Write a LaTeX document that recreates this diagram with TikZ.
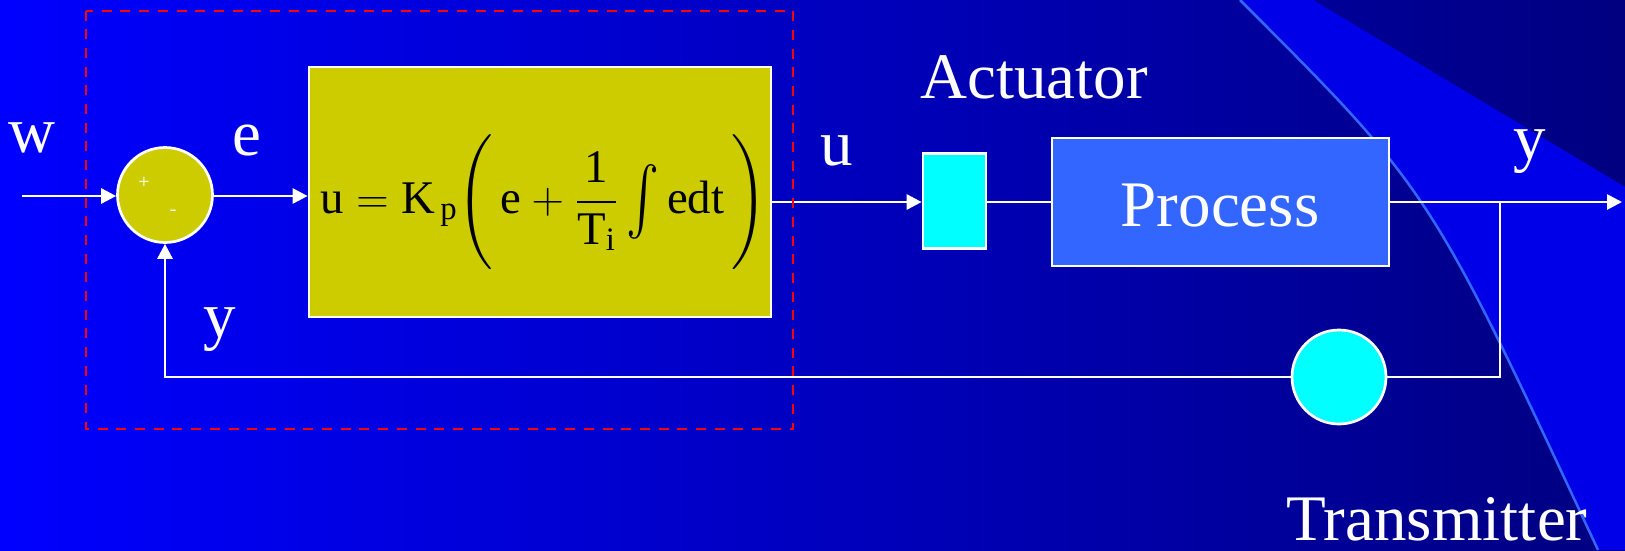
\documentclass[tikz,border=0pt]{standalone}
\usepackage{amsmath}
\usepackage{graphicx}
\usepackage{fontspec}
\setmainfont{Liberation Serif}
\usetikzlibrary{arrows.meta}
\definecolor{bgL}{RGB}{0,0,255}
\definecolor{bgR}{RGB}{0,0,128}
\definecolor{band}{RGB}{0,0,232}
\definecolor{curvecol}{RGB}{51,102,255}
\definecolor{ctrlyellow}{RGB}{204,204,0}
\definecolor{procblue}{RGB}{51,102,255}
\definecolor{aqua}{RGB}{0,255,255}
\tikzset{
  lbl/.style={text=white, font=\fontsize{65}{70}\selectfont, anchor=base, inner sep=0pt},
  wire/.style={draw=white, line width=2.7pt},
  arr/.style={wire, -{Triangle[length=15pt,width=15pt]}},
  blk/.style={draw=white, line width=2.7pt, inner sep=0pt},
}
\newcommand{\myint}{\mathop{\vcenter{\hbox{\scalebox{1.1}[1.5]{$\textstyle\int$}}}}\nolimits}
\begin{document}
\begin{tikzpicture}[x=1pt,y=-1pt]
\useasboundingbox (0,0) rectangle (1625,550);
\shade[left color=bgL, right color=bgR] (0,0) rectangle (1625,550);
\fill[band] (1240,0) -- (1313,0) -- (1625,187) -- (1625,550) -- (1598,550) .. controls (1430,190) .. (1240,0) -- cycle;
\draw[curvecol, line width=2.5pt] (1240,0) .. controls (1430,190) .. (1598,550);

% blocks
\node[blk, circle, fill=ctrlyellow, minimum size=95pt] (sum) at (165,195) {};
\node[text=white, font=\fontsize{20}{24}\selectfont, inner sep=0pt] (plus) at (144,183) {+};
\node[text=white, font=\fontsize{20}{24}\selectfont, inner sep=0pt] (minus) at (173,213) {-};
\node[blk, rectangle, fill=ctrlyellow, minimum width=462pt, minimum height=250pt] (ctrl) at (540,192) {};
\node[text=black, font=\fontsize{18}{22}\selectfont, inner sep=0pt] (formula) at (544,202)
  {\scalebox{2.6}{$\text{u} = \text{K}_{\,\text{p}}\Biggl(\,\text{e} + \dfrac{\text{1}}{\text{T}_{\text{i}}}\myint\text{edt}\,\Biggr)$}};
\node[blk, rectangle, fill=aqua, minimum width=63pt, minimum height=95pt] (act) at (954.5,201) {};
\node[blk, rectangle, fill=procblue, minimum width=337pt, minimum height=128pt] (proc) at (1220.5,202) {};
\node[lbl] (proctext) at (1220,226) {Process};
\node[blk, circle, fill=aqua, minimum size=94pt] (trans) at (1339,377) {};

\coordinate (win) at (22,196);
\coordinate (branch) at (1500,202);
\coordinate (corner) at (1500,377);
\coordinate (yout) at (1622,202);

% connectors
\draw[arr] (win) -- (win -| sum.west);
\draw[arr] (sum.east |- win) -- (win -| ctrl.west);
\draw[arr] (ctrl.east |- proc) -- (proc -| act.west);
\draw[wire] (act.east |- proc) -- (proc.west);
\draw[arr] (proc.east) -- (yout);
\draw[wire] (branch) -- (corner) -- (trans.east);
\draw[arr] (trans.west) -- (trans.west -| sum) -- (sum.south);

% dashed boundary
\draw[red, line width=2pt, dash pattern=on 10pt off 8.7pt] (86,10.5) rectangle (793,429);

% labels
\node[lbl] (lw) at (32,152) {w};
\node[lbl] (le) at (247,155) {e};
\node[lbl] (ly1) at (220,337) {y};
\node[lbl] (lu) at (837,165) {u};
\node[lbl] (lact) at (1034,98) {Actuator};
\node[lbl] (ly2) at (1530,159) {y};
\node[lbl, text depth=0pt] (ltrans) at (1437,540) {Transmitter};
\end{tikzpicture}
\end{document}
